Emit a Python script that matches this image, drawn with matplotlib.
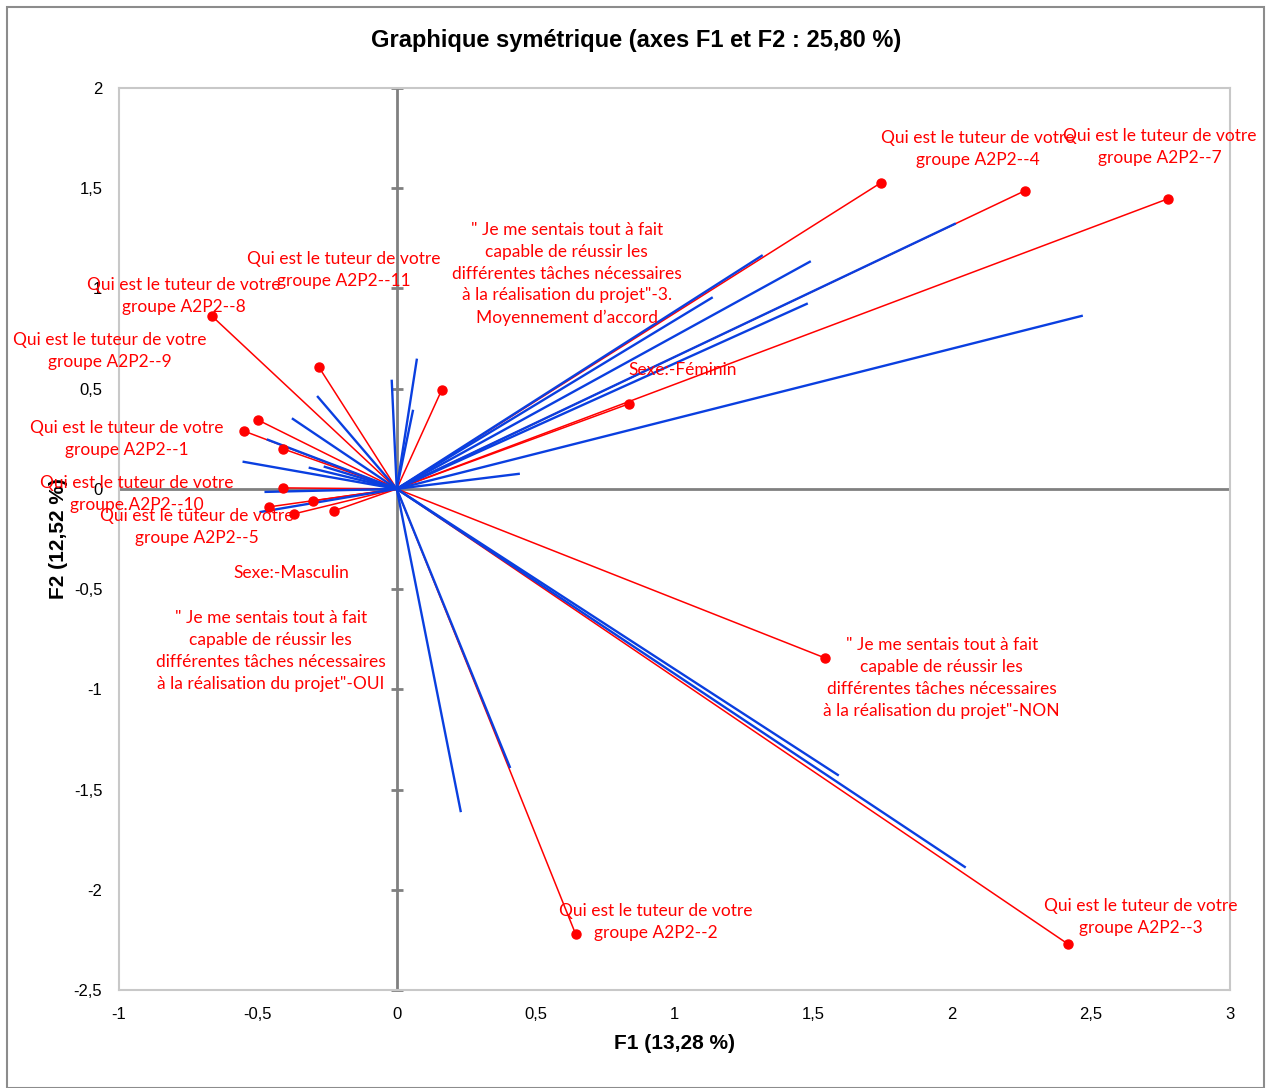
import matplotlib.pyplot as plt
import matplotlib.patches as patches
import numpy as np

# rows (red points, each joined to the origin)
row_x = [1.743, 2.261, 2.776, 0.835, 0.162, -0.281, -0.666, -0.500, -0.551,
         -0.410, -0.410, -0.461, -0.302, -0.371, -0.227, 1.541, 0.644, 2.416]
row_y = [1.527, 1.487, 1.447, 0.424, 0.494, 0.609, 0.863, 0.344, 0.289,
         0.200, 0.005, -0.090, -0.060, -0.125, -0.110, -0.843, -2.221, -2.270]

# columns (blue vectors from the origin)
col_x = [1.314, 1.487, 1.134, 1.476, 2.009, 2.466, 0.439, -0.018, 0.072, 0.058,
         -0.284, -0.374, -0.464, -0.551, -0.313, -0.259, -0.472, -0.490,
         0.230, 0.407, 1.588, 2.045]
col_y = [1.163, 1.133, 0.953, 0.923, 1.322, 0.863, 0.075, 0.539, 0.644, 0.389,
         0.459, 0.349, 0.245, 0.135, 0.105, 0.110, -0.015, -0.115,
         -1.607, -1.387, -1.427, -1.886]

tut = "Qui est le tuteur de votre\ngroupe A2P2--"
q = "\" Je me sentais tout à fait\ncapable de réussir les\ndifférentes tâches nécessaires\nà la réalisation du projet\"-"
labels = [tut + "4", tut + "7", q + "3.\nMoyennement d’accord", tut + "11", tut + "8",
          tut + "9", "Sexe:-Féminin", tut + "1", tut + "10", tut + "5",
          "Sexe:-Masculin", q + "OUI", q + "NON", tut + "2", tut + "3"]
label_x = [2.092, 2.747, 0.612, -0.191, -0.767, -1.033, 1.030, -0.972, -0.936,
           -0.720, -0.378, -0.454, 1.962, 0.933, 2.679]
label_y = [1.697, 1.707, 1.073, 1.093, 0.963, 0.689, 0.594, 0.250, -0.025,
           -0.190, -0.419, -0.808, -0.943, -2.161, -2.136]

xticks = [-1, -0.5, 0, 0.5, 1, 1.5, 2, 2.5, 3]
yticks = [-2.5, -2, -1.5, -1, -0.5, 0, 0.5, 1, 1.5, 2]

RED = '#ff0000'
BLUE = '#0a3fe0'
GRAY = '#808080'
SANS = ['Liberation Sans', 'DejaVu Sans']

fig = plt.figure(figsize=(12.66, 10.88), dpi=100)
ax = fig.add_axes([119 / 1266, 1 - 990 / 1088, (1230 - 119) / 1266, (990 - 88) / 1088])

fig.patches.append(patches.Rectangle((7 / 1266, 0), 1257 / 1266, 1081 / 1088,
                                     transform=fig.transFigure, fill=False,
                                     edgecolor='#8c8c8c', linewidth=1.5))

ax.set_xlim(-1, 3)
ax.set_ylim(-2.5, 2)
ax.axhline(0, color=GRAY, lw=2, zorder=1)
ax.axvline(0, color=GRAY, lw=2, zorder=1)
ax.plot(np.zeros(len(yticks)), yticks, ls='none', marker='_', ms=9, mew=2,
        color=GRAY, zorder=1, clip_on=False)

for x, y in zip(row_x, row_y):
    ax.plot([0, x], [0, y], color=RED, lw=1.1, zorder=2)
for x, y in zip(col_x, col_y):
    ax.plot([0, x], [0, y], color=BLUE, lw=1.7, zorder=3)
ax.plot(row_x, row_y, ls='none', marker='o', ms=6.5, color=RED, zorder=4)

for t, x, y in zip(labels, label_x, label_y):
    ax.text(x, y, t, color=RED, fontsize=12.5, family='Lato', ha='center',
            va='center', linespacing=1.45, zorder=5, clip_on=False)

ax.set_xticks(xticks)
ax.set_yticks(yticks)
ax.set_xticklabels([f"{v:g}".replace('.', ',') for v in xticks], family=SANS, fontsize=12)
ax.set_yticklabels([f"{v:g}".replace('.', ',') for v in yticks], family=SANS, fontsize=12)
ax.tick_params(length=0, pad=12)
for s in ax.spines.values():
    s.set_color('#c8c8c8')
    s.set_linewidth(1.5)

ax.set_xlabel('F1 (13,28 %)', family=SANS, fontweight='bold', fontsize=15, labelpad=9)
ax.set_ylabel('F2 (12,52 %)', family=SANS, fontweight='bold', fontsize=15, labelpad=4)
fig.text(636 / 1266, 1 - 41 / 1088, 'Graphique symétrique (axes F1 et F2 : 25,80 %)',
         family=SANS, fontweight='bold', fontsize=17, ha='center', va='center')

fig.savefig('out.png', dpi=100)
